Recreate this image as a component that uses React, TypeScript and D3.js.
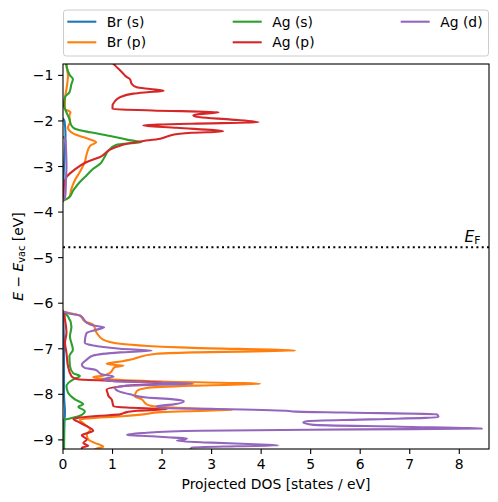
import React from 'react';
import * as d3 from 'd3';

type P = [number, number]; // [energy (eV), DOS]

const seriesNames = ['Br (s)', 'Br (p)', 'Ag (s)', 'Ag (p)', 'Ag (d)'];
const seriesColors = ['#1f77b4', '#ff7f0e', '#2ca02c', '#d62728', '#9467bd'];
const xTicks = [0, 1, 2, 3, 4, 5, 6, 7, 8];
const yTicks = [-9, -8, -7, -6, -5, -4, -3, -2, -1];
const fermiLevel = -4.77;

const brS: P[] = [
  [-1.95, 0.0], [-2.0, 0.03], [-2.3, 0.05], [-2.6, 0.04], [-3.0, 0.02], [-3.75, 0.0],
  [-6.18, 0.0], [-7.0, 0.02], [-8.0, 0.02], [-8.4, 0.04], [-8.6, 0.03], [-9.25, 0.02],
];

const brP: P[] = [
  [-0.7, 0.07], [-0.78, 0.07], [-1.0, 0.1], [-1.3, 0.07], [-1.52, 0.04], [-1.74, 0.04], [-1.78, 0.12],
  [-1.81, 0.15], [-1.88, 0.13], [-2.03, 0.14], [-2.14, 0.1], [-2.28, 0.21], [-2.38, 0.48], [-2.47, 0.67],
  [-2.54, 0.55], [-2.72, 0.48], [-2.9, 0.44], [-3.12, 0.34], [-3.3, 0.24], [-3.49, 0.17], [-3.67, 0.13],
  [-3.72, 0.06], [-3.75, 0.0],
  [-6.18, 0.0], [-6.22, 0.15], [-6.27, 0.34], [-6.4, 0.44], [-6.47, 0.61], [-6.65, 0.68], [-6.8, 0.81],
  [-6.89, 1.15], [-6.98, 2.63], [-7.04, 4.69], [-7.08, 2.63], [-7.11, 1.89], [-7.24, 1.35], [-7.27, 1.22],
  [-7.33, 0.88], [-7.355, 1.05], [-7.37, 1.22], [-7.4, 1.05], [-7.43, 1.02], [-7.53, 0.95], [-7.59, 0.81],
  [-7.62, 0.61], [-7.66, 0.81], [-7.72, 2.0], [-7.77, 3.98], [-7.81, 2.63], [-7.86, 1.69], [-7.93, 1.49],
  [-8.04, 1.45], [-8.11, 1.59], [-8.22, 1.69], [-8.27, 1.89], [-8.31, 2.63], [-8.34, 3.43], [-8.37, 2.5],
  [-8.39, 1.96], [-8.44, 1.62], [-8.48, 1.2], [-8.51, 0.75], [-8.55, 0.34], [-8.66, 0.44], [-8.77, 0.55],
  [-8.88, 0.48], [-8.99, 0.51], [-9.07, 0.65], [-9.15, 0.81], [-9.19, 0.68], [-9.25, 0.6],
];

const agS: P[] = [
  [-0.7, 0.06], [-0.79, 0.07], [-1.0, 0.14], [-1.08, 0.2], [-1.19, 0.17], [-1.37, 0.13], [-1.48, 0.04],
  [-1.66, 0.02], [-1.81, 0.07], [-1.96, 0.13], [-2.1, 0.17], [-2.17, 0.24], [-2.25, 0.55], [-2.33, 0.95],
  [-2.41, 1.29], [-2.47, 1.58], [-2.52, 1.08], [-2.65, 0.92], [-2.83, 0.82], [-2.94, 0.75], [-3.05, 0.61],
  [-3.19, 0.48], [-3.34, 0.34], [-3.52, 0.21], [-3.69, 0.11], [-3.74, 0.02], [-3.76, 0.0],
  [-6.18, 0.0], [-6.29, 0.1], [-6.51, 0.17], [-6.73, 0.14], [-7.02, 0.2], [-7.16, 0.13], [-7.38, 0.14],
  [-7.54, 0.21], [-7.6, 0.34], [-7.67, 0.21], [-7.82, 0.07], [-7.96, 0.1], [-8.11, 0.24], [-8.22, 0.41],
  [-8.27, 0.31], [-8.37, 0.44], [-8.47, 0.34], [-8.53, 0.14], [-8.56, 0.02], [-8.7, 0.02], [-9.25, 0.02],
];

const agP: P[] = [
  [-0.7, 0.98], [-0.78, 1.05], [-0.93, 1.19], [-1.04, 1.29], [-1.08, 1.35], [-1.19, 1.39], [-1.26, 1.49],
  [-1.3, 1.76], [-1.34, 2.03], [-1.37, 1.7], [-1.4, 1.42], [-1.48, 1.15], [-1.58, 1.04], [-1.66, 1.0],
  [-1.74, 1.0], [-1.77, 1.8], [-1.81, 3.14], [-1.85, 2.75], [-1.88, 2.63], [-1.92, 2.77], [-1.97, 3.4],
  [-2.03, 3.95], [-2.06, 2.6], [-2.1, 1.62], [-2.15, 2.3], [-2.23, 3.23], [-2.26, 2.6], [-2.28, 2.36],
  [-2.34, 2.1], [-2.39, 1.96], [-2.45, 1.56], [-2.5, 1.29], [-2.56, 1.1], [-2.63, 0.95], [-2.79, 0.75],
  [-2.9, 0.48], [-3.09, 0.21], [-3.23, 0.07], [-3.41, 0.02], [-3.6, 0.01], [-3.75, 0.0],
  [-6.18, 0.0], [-6.21, 0.02], [-6.36, 0.04], [-6.65, 0.07], [-6.87, 0.04], [-7.09, 0.07], [-7.38, 0.1],
  [-7.6, 0.17], [-7.67, 0.3], [-7.7, 0.9], [-7.74, 1.96], [-7.77, 2.05], [-7.8, 1.4], [-7.83, 1.15],
  [-7.9, 0.88], [-7.97, 0.9], [-8.04, 0.92], [-8.11, 0.98], [-8.26, 1.02], [-8.29, 1.29], [-8.33, 2.09],
  [-8.36, 1.5], [-8.39, 1.29], [-8.44, 1.15], [-8.47, 0.75], [-8.51, 0.35], [-8.54, 0.21], [-8.59, 0.28],
  [-8.7, 0.48], [-8.8, 0.61], [-8.85, 0.5], [-8.9, 0.38], [-8.99, 0.48], [-9.07, 0.41], [-9.13, 0.51],
  [-9.17, 0.38], [-9.25, 0.4],
];

const agD: P[] = [
  [-2.35, 0.0], [-2.4, 0.05], [-2.6, 0.06], [-3.0, 0.07], [-3.3, 0.06], [-3.6, 0.05], [-3.7, 0.03], [-3.75, 0.0],
  [-6.18, 0.0], [-6.23, 0.14], [-6.27, 0.34], [-6.35, 0.42], [-6.43, 0.48], [-6.49, 0.61], [-6.53, 0.83],
  [-6.58, 0.68], [-6.65, 0.48], [-6.75, 0.45], [-6.87, 0.44], [-6.93, 0.61], [-7.0, 1.15], [-7.04, 1.79],
  [-7.08, 1.15], [-7.15, 0.61], [-7.24, 0.48], [-7.35, 0.38], [-7.42, 0.44], [-7.46, 0.65], [-7.56, 0.78],
  [-7.61, 1.02], [-7.67, 0.81], [-7.71, 1.02], [-7.74, 1.9], [-7.77, 2.63], [-7.81, 1.29], [-7.86, 1.05],
  [-7.93, 1.12], [-8.0, 1.35], [-8.07, 1.69], [-8.11, 2.23], [-8.15, 2.44], [-8.22, 2.23], [-8.26, 1.89],
  [-8.3, 2.0], [-8.32, 3.0], [-8.36, 4.5], [-8.38, 4.7], [-8.4, 5.67], [-8.44, 7.55], [-8.5, 7.58],
  [-8.55, 6.2], [-8.59, 4.92], [-8.62, 4.85], [-8.67, 5.06], [-8.71, 6.8], [-8.75, 8.46], [-8.77, 6.0],
  [-8.8, 2.77], [-8.85, 1.6], [-8.89, 1.29], [-8.92, 1.8], [-8.95, 2.23], [-8.97, 2.5], [-9.0, 2.4],
  [-9.02, 2.3], [-9.06, 3.0], [-9.1, 4.0], [-9.12, 4.35], [-9.14, 3.5], [-9.17, 2.6], [-9.25, 2.55],
];

const seriesData: P[][] = [brS, brP, agS, agP, agD];

const FONT = 'DejaVu Sans, sans-serif';
const FS = 13.9;

function splitBands(pts: P[]): P[][] {
  const out: P[][] = [];
  let cur: P[] = [];
  pts.forEach((p, i) => {
    if (i > 0 && Math.abs(p[0] - pts[i - 1][0]) > 1) {
      out.push(cur);
      cur = [];
    }
    cur.push(p);
  });
  if (cur.length) out.push(cur);
  return out;
}

export default function App() {
  const W = 498, H = 502;
  const m = { left: 63, right: 489, top: 64, bottom: 449 };
  const x = d3.scaleLinear().domain([0, 8.6]).range([m.left, m.right]);
  const y = d3.scaleLinear().domain([-9.2, -0.75]).range([m.bottom, m.top]);
  const line = d3.line<P>().x(d => x(d[1])).y(d => y(d[0])).curve(d3.curveMonotoneY);

  const legendCols = [67.3, 232.7, 400.7];
  const legendRows = [21.7, 42.3];

  return (
    <svg width={W} height={H} style={{ position: 'absolute', left: 0, top: 0, background: '#fff' }}
      fontFamily={FONT}>
      <defs>
        <clipPath id="plotClip">
          <rect x={m.left} y={m.top} width={m.right - m.left} height={m.bottom - m.top} />
        </clipPath>
      </defs>
      <rect x={0} y={0} width={W} height={H} fill="#fff" />
      <g clipPath="url(#plotClip)">
        {seriesData.map((s, i) =>
          splitBands(s).map((band, j) => (
            <path key={`${i}-${j}`} d={line(band) || ''} fill="none" stroke={seriesColors[i]}
              strokeWidth={2.1} strokeLinejoin="round" strokeLinecap="square" />
          ))
        )}
        <line x1={m.left} x2={m.right} y1={y(fermiLevel)} y2={y(fermiLevel)} stroke="#000"
          strokeWidth={2} strokeDasharray="2,3.3" />
      </g>
      {/* E_F label */}
      <text x={464.5} y={241.5} fontSize={15.5} fill="#000">
        <tspan fontStyle="italic">E</tspan>
        <tspan fontSize={10.8} dy={2.8}>F</tspan>
      </text>
      {/* axes frame */}
      <rect x={m.left} y={m.top} width={m.right - m.left} height={m.bottom - m.top} fill="none"
        stroke="#000" strokeWidth={1.1} />
      {/* x ticks */}
      {xTicks.map(t => (
        <g key={`xt${t}`}>
          <line x1={x(t)} x2={x(t)} y1={m.bottom} y2={m.bottom + 4.9} stroke="#000" strokeWidth={1.1} />
          <text x={x(t)} y={469.3} fontSize={FS} textAnchor="middle" fill="#000">{String(t)}</text>
        </g>
      ))}
      {/* y ticks */}
      {yTicks.map(t => (
        <g key={`yt${t}`}>
          <line x1={m.left - 4.9} x2={m.left} y1={y(t)} y2={y(t)} stroke="#000" strokeWidth={1.1} />
          <text x={m.left - 9.7} y={y(t) + 5} fontSize={FS} textAnchor="end" fill="#000">
            {'\u2212' + Math.abs(t)}
          </text>
        </g>
      ))}
      {/* axis labels */}
      <text x={(m.left + m.right) / 2} y={488.5} fontSize={FS} textAnchor="middle" fill="#000">
        Projected DOS [states / eV]
      </text>
      <text transform={`translate(22.5, ${(m.top + m.bottom) / 2}) rotate(-90)`} fontSize={FS}
        textAnchor="middle" fill="#000">
        <tspan fontStyle="italic">E</tspan>
        <tspan>{' \u2212 '}</tspan>
        <tspan fontStyle="italic">E</tspan>
        <tspan fontSize={9.7} dy={2.5}>vac</tspan>
        <tspan dy={-2.5}>{' [eV]'}</tspan>
      </text>
      {/* legend */}
      <rect x={63.5} y={10} width={425} height={46} rx={2.8} fill="#fff" fillOpacity={0.8}
        stroke="#cccccc" strokeWidth={1} />
      {seriesNames.map((name, i) => {
        const col = Math.floor(i / 2);
        const row = i % 2;
        const lx = legendCols[col];
        const ly = legendRows[row];
        return (
          <g key={name}>
            <line x1={lx} x2={lx + 29} y1={ly} y2={ly} stroke={seriesColors[i]} strokeWidth={2.1} />
            <text x={lx + 39.5} y={ly + 5} fontSize={FS} fill="#000">{name}</text>
          </g>
        );
      })}
    </svg>
  );
}
